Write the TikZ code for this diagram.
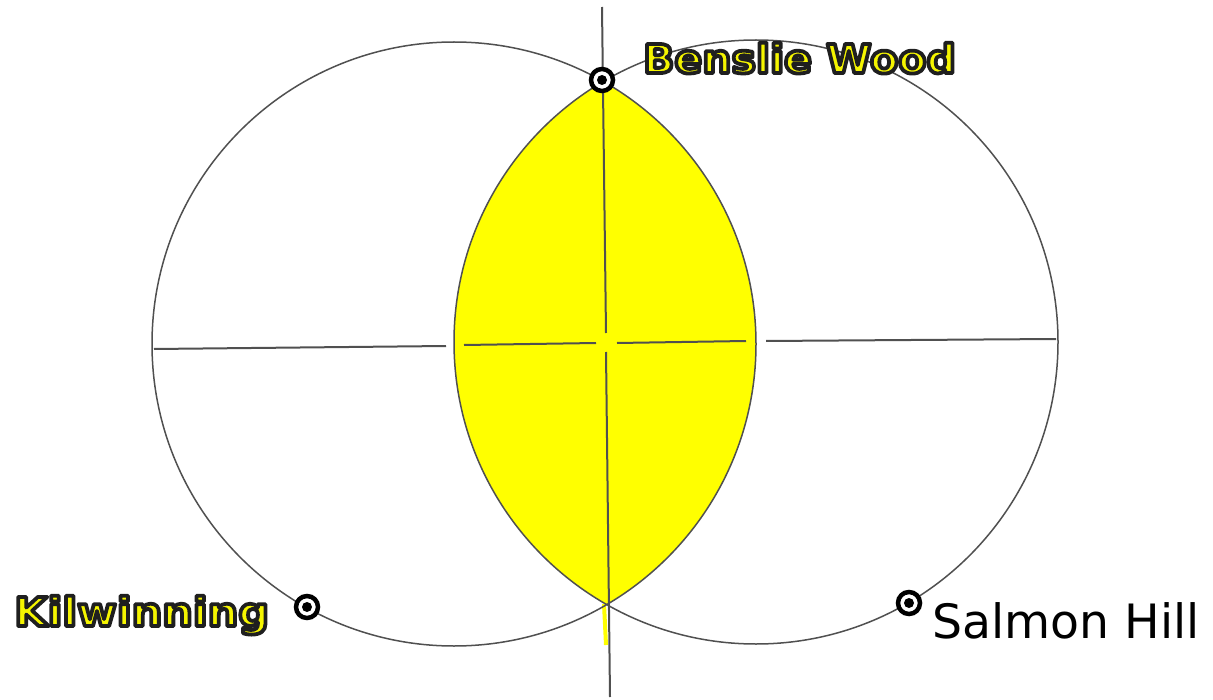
\documentclass[tikz,border=0pt]{standalone}
\usepackage{fontspec}
\setmainfont{DejaVu Sans}
\usetikzlibrary{positioning}
\definecolor{lensyellow}{RGB}{255,255,0}
\definecolor{labelyellow}{RGB}{245,245,0}
\definecolor{guide}{RGB}{80,80,80}

% yellow letters with a dark rim
\newcommand{\rimtext}[1]{%
  {\color{labelyellow}\special{pdf:literal 2 Tr 0.12 0.12 0.12 RG 3.8 w 1 j}#1\special{pdf:literal 0 Tr}}}

\begin{document}
\begin{tikzpicture}[
  x=1bp, y=-1bp,
  ring/.style={draw=guide, line width=1.5bp},
  axis/.style={draw=guide, line width=2bp},
  site/.style={circle, draw=black, line width=4.5bp, fill=white, minimum size=22bp, inner sep=0pt,
    path picture={\fill[black] (path picture bounding box.center) circle (5bp);}},
  place/.style={inner sep=0pt, anchor=base west, font=\fontsize{40}{42}\selectfont\bfseries},
  plain/.style={inner sep=0pt, anchor=base west, font=\fontsize{47.5}{49}\selectfont}]
\useasboundingbox (0,0) rectangle (1213,700);
\coordinate (lc) at (454,344);
\coordinate (rc) at (756,342);
% the vesica
\begin{scope}
  \clip (lc) circle (302);
  \fill[lensyellow] (rc) circle (302);
\end{scope}
\draw[lensyellow, line width=4bp] (604,604) -- (606,645);
\draw[ring] (lc) circle (302);
\draw[ring] (rc) circle (302);
% axes
\coordinate (top) at (602,7);
\coordinate (mid1) at (606,333);
\coordinate (mid2) at (606,352);
\coordinate (bot) at (610,697);
\coordinate (west) at (154,349);
\coordinate (w1) at (446,346);
\coordinate (w2) at (464,345);
\coordinate (c1) at (596,343);
\coordinate (c2) at (617,343);
\coordinate (e1) at (746,341);
\coordinate (e2) at (766,341);
\coordinate (east) at (1056,339);
\draw[axis] (top) -- (mid1) (mid2) -- (bot);
\draw[axis] (west) -- (w1) (w2) -- (c1) (c2) -- (e1) (e2) -- (east);
% sites
\node[site] (benslie) at (602,80) {};
\node[site] (kilwinning) at (307,607) {};
\node[site] (salmon) at (909,603) {};
\node[place] (bensliename) at (643,73) {\addfontfeature{FakeStretch=1.03}\rimtext{Benslie Wood}};
\node[place] (kilname) at (14,626) {\addfontfeature{FakeStretch=1.08}\rimtext{Kilwinning}};
\node[plain] (salmonname) at (932,638) {Salmon Hill};
\end{tikzpicture}
\end{document}
